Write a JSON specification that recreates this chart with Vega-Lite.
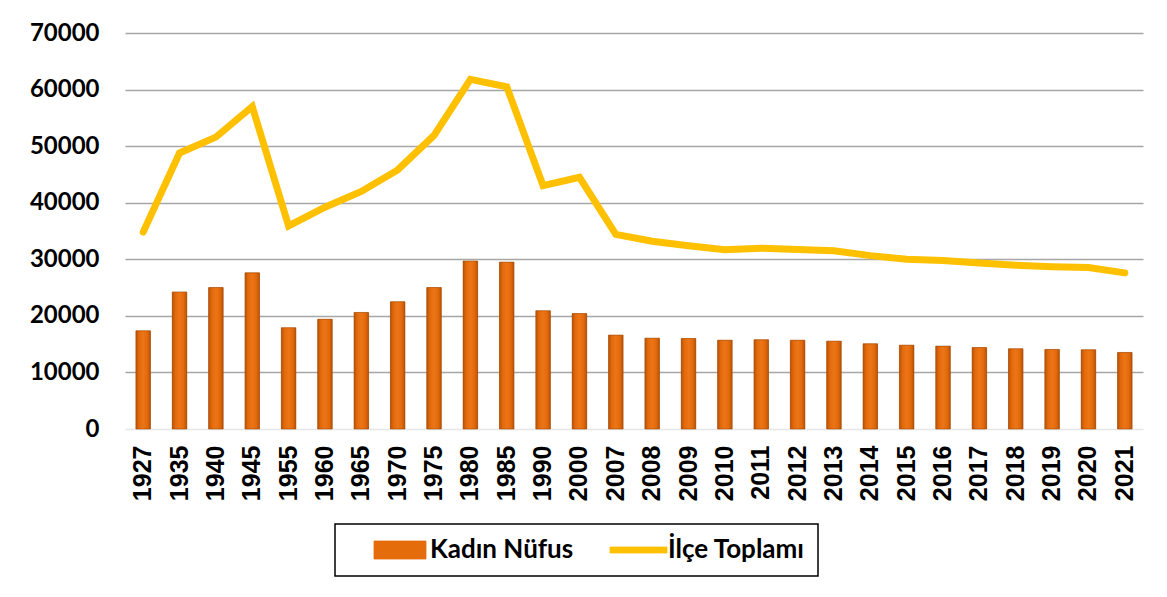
{
  "$schema": "https://vega.github.io/schema/vega-lite/v6.json",
  "autosize": {"type": "none"},
  "width": 1018,
  "height": 396,
  "padding": {"left": 125, "top": 33, "right": 24, "bottom": 168},
  "background": "white",
  "config": {
    "view": {"stroke": null},
    "font": "Lato"
  },
  "data": {
    "values": [
      {"year": "1927", "kadin": 17350, "toplam": 34800},
      {"year": "1935", "kadin": 24230, "toplam": 48800},
      {"year": "1940", "kadin": 25000, "toplam": 51600},
      {"year": "1945", "kadin": 27600, "toplam": 57000},
      {"year": "1955", "kadin": 17900, "toplam": 35900},
      {"year": "1960", "kadin": 19400, "toplam": 39200},
      {"year": "1965", "kadin": 20600, "toplam": 42000},
      {"year": "1970", "kadin": 22500, "toplam": 45800},
      {"year": "1975", "kadin": 25000, "toplam": 51900},
      {"year": "1980", "kadin": 29700, "toplam": 61800},
      {"year": "1985", "kadin": 29500, "toplam": 60500},
      {"year": "1990", "kadin": 20900, "toplam": 43000},
      {"year": "2000", "kadin": 20400, "toplam": 44500},
      {"year": "2007", "kadin": 16600, "toplam": 34400},
      {"year": "2008", "kadin": 16060, "toplam": 33200},
      {"year": "2009", "kadin": 16000, "toplam": 32400},
      {"year": "2010", "kadin": 15700, "toplam": 31700},
      {"year": "2011", "kadin": 15780, "toplam": 31950},
      {"year": "2012", "kadin": 15700, "toplam": 31750},
      {"year": "2013", "kadin": 15530, "toplam": 31500},
      {"year": "2014", "kadin": 15060, "toplam": 30650},
      {"year": "2015", "kadin": 14820, "toplam": 30000},
      {"year": "2016", "kadin": 14650, "toplam": 29800},
      {"year": "2017", "kadin": 14400, "toplam": 29350},
      {"year": "2018", "kadin": 14180, "toplam": 28950},
      {"year": "2019", "kadin": 14060, "toplam": 28700},
      {"year": "2020", "kadin": 14000, "toplam": 28550},
      {"year": "2021", "kadin": 13530, "toplam": 27600}
    ]
  },
  "encoding": {
    "x": {
      "field": "year",
      "type": "nominal",
      "sort": null,
      "scale": {"paddingInner": 0.6, "paddingOuter": 0.3},
      "axis": {
        "title": null,
        "labelAngle": 270,
        "labelFont": "Liberation Sans",
        "labelFontWeight": "bold",
        "labelFontSize": 25,
        "labelColor": "#000000",
        "labelPadding": 16,
        "ticks": false,
        "domain": false,
        "grid": false
      }
    }
  },
  "layer": [
    {
      "mark": {"type": "bar"},
      "encoding": {
        "y": {
          "field": "kadin",
          "type": "quantitative",
          "scale": {"domain": [0, 70000], "nice": false},
          "axis": {
            "title": null,
            "values": [0, 10000, 20000, 30000, 40000, 50000, 60000, 70000],
            "format": "d",
            "labelFont": "Lato",
            "labelFontWeight": "bold",
            "labelFontSize": 24,
            "labelColor": "#000000",
            "labelPadding": 26,
            "ticks": false,
            "domain": false,
            "grid": true,
            "gridColor": {"condition": {"test": "datum.value === 0", "value": "#E6E6E6"}, "value": "#A6A6A6"},
            "gridWidth": 1.6
          }
        },
        "color": {
          "datum": "Kadın Nüfus",
          "scale": {"domain": ["Kadın Nüfus", "İlçe Toplamı"], "range": ["#E46C0A", "#FFC000"]},
          "legend": {
            "title": null,
            "orient": "none",
            "legendX": 210,
            "legendY": 491,
            "direction": "horizontal",
            "strokeColor": "#000000",
            "padding": 13,
            "fillColor": "white",
            "symbolSize": 400,
            "symbolOffset": 39,
            "columnPadding": 12,
            "labelOffset": 17,
            "labelFont": "Lato",
            "labelFontWeight": "bold",
            "labelFontSize": 26,
            "labelColor": "#000000",
            "labelLimit": 300,
            "encode": {
              "legend": {
                "update": {
                  "strokeWidth": {"value": 1.5}
                }
              },
              "symbols": {
                "update": {
                  "shape": {"signal": "datum.value === 'Kadın Nüfus' ? 'M-2.6,-0.9H2.6V0.9H-2.6Z' : 'M-2.8,-0.3H2.9V0.3H-2.8Z'"},
                  "fill": {"signal": "datum.value === 'Kadın Nüfus' ? '#E46C0A' : '#FFC000'"},
                  "stroke": {"signal": "datum.value === 'Kadın Nüfus' ? '#A04A08' : '#FFC000'"},
                  "strokeWidth": {"value": 0.8},
                  "opacity": {"value": 1},
                  "fillOpacity": {"value": 1}
                }
              }
            }
          }
        }
      }
    },
    {
      "mark": {
        "type": "bar",
        "stroke": "#A04A08",
        "strokeWidth": 0.6,
        "color": {
          "gradient": "linear",
          "x1": 0, "y1": 0, "x2": 1, "y2": 0,
          "stops": [
            {"offset": 0, "color": "#B8520A"},
            {"offset": 0.22, "color": "#E26A0A"},
            {"offset": 0.5, "color": "#EC7518"},
            {"offset": 0.78, "color": "#E26A0A"},
            {"offset": 1, "color": "#B8520A"}
          ]
        }
      },
      "encoding": {
        "y": {"field": "kadin", "type": "quantitative"}
      }
    },
    {
      "mark": {"type": "line", "strokeWidth": 7, "strokeCap": "round", "strokeJoin": "miter"},
      "encoding": {
        "y": {"field": "toplam", "type": "quantitative"},
        "color": {"datum": "İlçe Toplamı"}
      }
    }
  ]
}
